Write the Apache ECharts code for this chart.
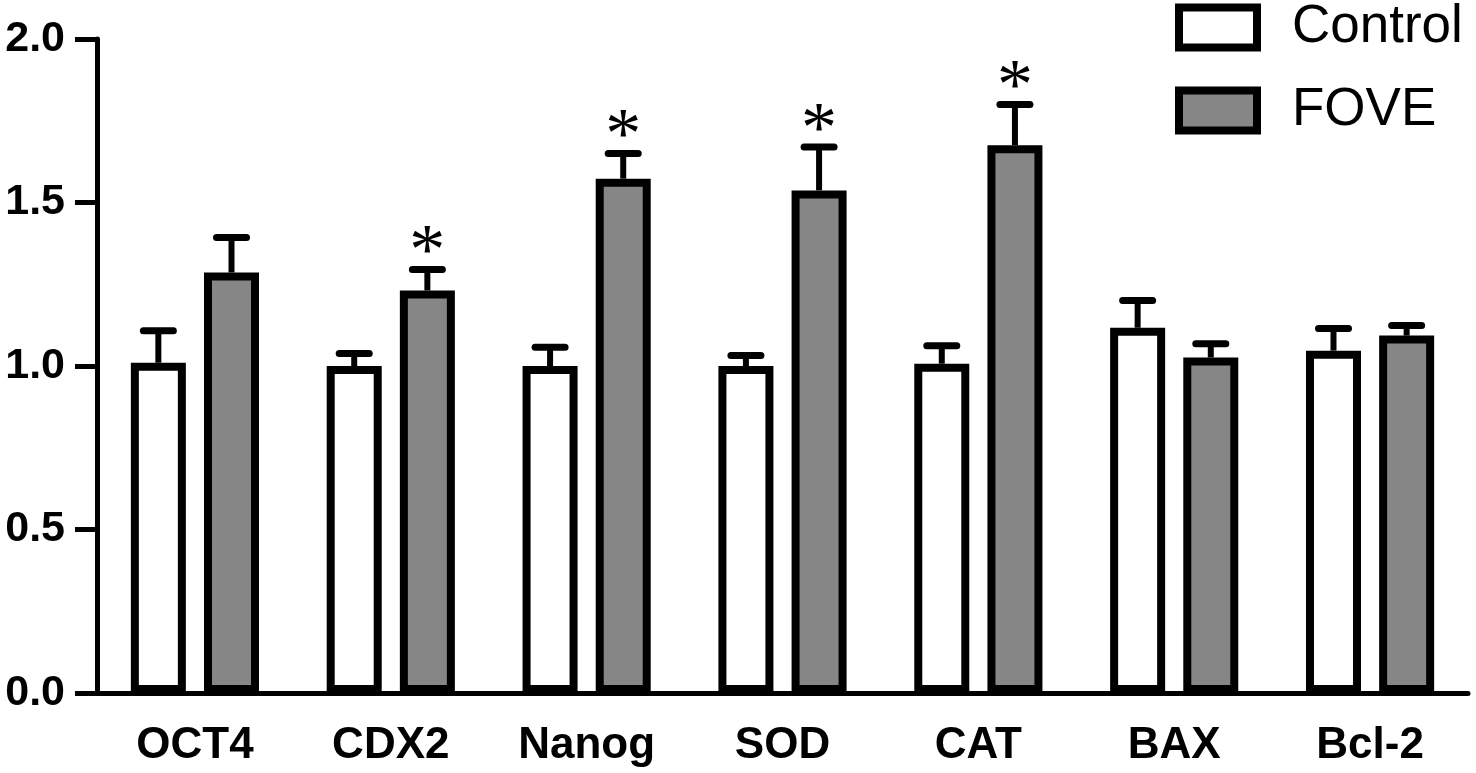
<!DOCTYPE html>
<html>
<head>
<meta charset="utf-8">
<title>Control vs FOVE</title>
<script src="https://cdn.jsdelivr.net/npm/echarts@6/dist/echarts.min.js"></script>
<style>
html, body { margin: 0; padding: 0; background: #fff; }
#main { width: 1476px; height: 773px; }
</style>
</head>
<body>
<div id="main"></div>
<script>
// data
var genes = ['OCT4', 'CDX2', 'Nanog', 'SOD', 'CAT', 'BAX', 'Bcl-2'];
var controlMean = [1.01, 1.00, 1.00, 1.00, 1.007, 1.117, 1.047];
var controlTop  = [1.108, 1.038, 1.057, 1.032, 1.062, 1.20, 1.115];
var foveMean    = [1.286, 1.231, 1.573, 1.537, 1.675, 1.026, 1.093];
var foveTop     = [1.393, 1.295, 1.65, 1.67, 1.80, 1.068, 1.124];
var foveSig     = [0, 1, 1, 1, 1, 0, 0];
var yTicks = [0, 0.5, 1.0, 1.5, 2.0];

// bar border is drawn inside the bar in echarts, so barWidth = outer width
var BAR_W = 55;
var BAR_GAP = 0.33;
var OFF = BAR_W * (1 + BAR_GAP) / 2;
var FONT = '"Liberation Sans", Arial, sans-serif';

var myChart = echarts.init(document.getElementById('main'));

function errRender(sign) {
    return function (params, api) {
        var i = api.value(0);
        var base = api.coord([i, api.value(1)]);
        var top = api.coord([i, api.value(2)]);
        var x = base[0] + sign * OFF;
        var kids = [
            { type: 'line', shape: { x1: x, y1: base[1], x2: x, y2: top[1] },
              style: { stroke: '#000', lineWidth: 6 } },
            { type: 'line', shape: { x1: x - 15, y1: top[1], x2: x + 15, y2: top[1] },
              style: { stroke: '#000', lineWidth: 7, lineCap: 'round' } }
        ];
        if (api.value(3)) {
            // significance mark
            kids.push({ type: 'text', x: x, y: top[1] + 21,
                style: { text: '*', fill: '#000', font: '72px "Liberation Serif", serif',
                         align: 'center', verticalAlign: 'bottom' } });
        }
        return { type: 'group', children: kids };
    };
}

var ctrlErr = genes.map(function (g, i) { return [i, controlMean[i], controlTop[i], 0]; });
var foveErr = genes.map(function (g, i) { return [i, foveMean[i], foveTop[i], foveSig[i]]; });

myChart.setOption({
    animation: false,
    grid: { left: 97, right: 8, top: 39, bottom: 80 },
    legend: {
        data: ['Control', 'FOVE'],
        orient: 'vertical',
        left: 1170,
        top: -4,
        icon: 'rect',
        itemWidth: 78,
        itemHeight: 40,
        itemGap: 30,
        itemStyle: { borderWidth: 8, borderColor: '#000' },
        textStyle: { fontFamily: FONT, fontSize: 53, color: '#000', padding: [0, 0, 0, 30] }
    },
    xAxis: {
        type: 'category',
        data: genes,
        axisLine: { lineStyle: { color: '#000', width: 5 } },
        axisTick: { alignWithLabel: true, length: 18, lineStyle: { color: '#000', width: 5 } },
        axisLabel: { fontFamily: FONT, fontWeight: 'bold', fontSize: 44, color: '#000', margin: 31 }
    },
    yAxis: {
        type: 'value',
        min: yTicks[0],
        max: yTicks[yTicks.length - 1],
        interval: 0.5,
        splitLine: { show: false },
        axisLine: { show: true, lineStyle: { color: '#000', width: 5 } },
        axisTick: { show: true, length: 22, lineStyle: { color: '#000', width: 5 } },
        axisLabel: {
            fontFamily: FONT, fontWeight: 'bold', fontSize: 43, color: '#000', margin: 32,
            formatter: function (v) { return v.toFixed(1); }
        }
    },
    series: [
        {
            name: 'Control', type: 'bar', data: controlMean,
            barWidth: BAR_W, barGap: (BAR_GAP * 100) + '%',
            itemStyle: { color: '#fff', borderColor: '#000', borderWidth: 8 }
        },
        {
            name: 'FOVE', type: 'bar', data: foveMean,
            barWidth: BAR_W,
            itemStyle: { color: '#868686', borderColor: '#000', borderWidth: 8 }
        },
        {
            name: 'ctrlErr', type: 'custom', data: ctrlErr, z: 3,
            renderItem: errRender(-1), encode: { x: 0, y: [1, 2] }
        },
        {
            name: 'foveErr', type: 'custom', data: foveErr, z: 3,
            renderItem: errRender(1), encode: { x: 0, y: [1, 2] }
        }
    ]
});
</script>
</body>
</html>
